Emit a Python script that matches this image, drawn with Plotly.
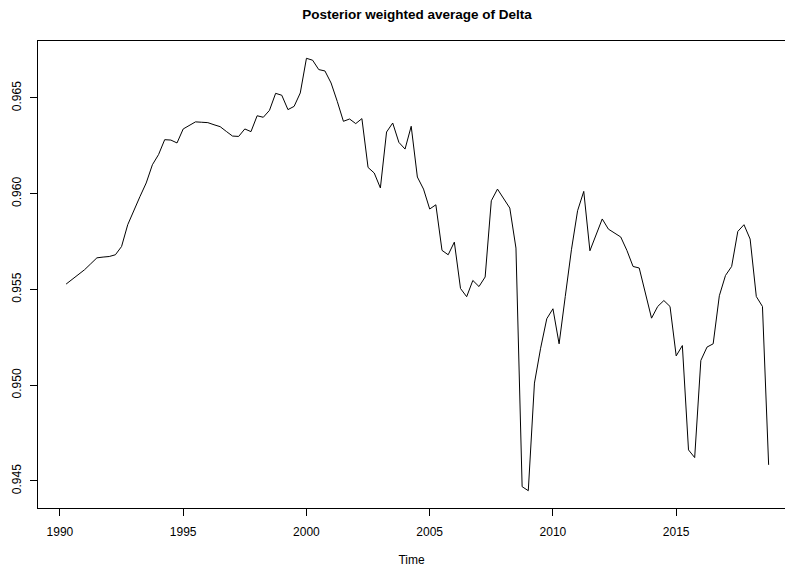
import numpy as np
import plotly.graph_objects as go

# Quarterly series, starting 1990 Q2
start_year = 1990.25
freq = 4
delta = [
    0.95528, 0.95552, 0.95578, 0.95603, 0.95634, 0.95665, 0.95669, 0.95672, 0.95681, 0.95724,
    0.95838, 0.95916, 0.95986, 0.96056, 0.96151, 0.96204, 0.96282, 0.96280, 0.96265, 0.96338,
    0.96357, 0.96375, 0.96373, 0.96371, 0.96360, 0.96350, 0.96325, 0.96301, 0.96299, 0.96338,
    0.96324, 0.96407, 0.96399, 0.96435, 0.96524, 0.96514, 0.96439, 0.96456, 0.96526, 0.96707,
    0.96697, 0.96648, 0.96641, 0.96578, 0.96482, 0.96378, 0.96390, 0.96366, 0.96392, 0.96137,
    0.96108, 0.96030, 0.96322, 0.96369, 0.96268, 0.96233, 0.96352, 0.96087, 0.96024, 0.95920,
    0.95942, 0.95704, 0.95681, 0.95747, 0.95505, 0.95462, 0.95547, 0.95515, 0.95565, 0.95963,
    0.96024, 0.95975, 0.95925, 0.95716, 0.94470, 0.94449, 0.95011, 0.95193, 0.95347, 0.95399,
    0.95216, 0.95463, 0.95707, 0.95911, 0.96012, 0.95702, 0.95786, 0.95868, 0.95815, 0.95794,
    0.95774, 0.95704, 0.95620, 0.95612, 0.95481, 0.95350, 0.95411, 0.95442, 0.95411, 0.95153,
    0.95207, 0.94662, 0.94622, 0.95129, 0.95199, 0.95216, 0.95467, 0.95573, 0.95620, 0.95803,
    0.95838, 0.95763, 0.95463, 0.95411, 0.94584,
]
time = start_year + np.arange(len(delta)) / freq

x_ticks = [1990, 1995, 2000, 2005, 2010, 2015]
y_ticks = [0.945, 0.950, 0.955, 0.960, 0.965]
y_ticktext = ["0.945", "0.950", "0.955", "0.960", "0.965"]

title_text = "Posterior weighted average of Delta"
x_title = "Time"

FONT = "Liberation Sans, Arial, Helvetica, sans-serif"

fig = go.Figure()
fig.add_trace(go.Scatter(
    x=time, y=delta, mode="lines",
    line=dict(color="black", width=1),
    hoverinfo="skip", showlegend=False,
))

# R-style 4% axis extension
xmin, xmax = time.min(), time.max()
xr = xmax - xmin
x_lo = xmin - 0.04 * xr
ymin, ymax = min(delta), max(delta)
yr = ymax - ymin
y_lo = ymin - 0.04 * yr
y_hi = ymax + 0.04 * yr

W, H = 785, 569
left, top, bottom = 38, 41, 61
# the R plot region extends past the right edge (image is cropped)
px_per_year = 24.65
x_hi = x_lo + (W - left) / px_per_year

fig.update_layout(
    width=W, height=H,
    margin=dict(l=left, r=0, t=top, b=bottom, pad=0),
    paper_bgcolor="white", plot_bgcolor="white",
    font=dict(family=FONT, size=12, color="black"),
    title=dict(
        text="<b>" + title_text + "</b>",
        x=417 / W, xref="container", xanchor="center",
        y=1 - 14 / H, yref="container", yanchor="middle",
        font=dict(family=FONT, size=13.5, color="black"),
    ),
    xaxis=dict(
        range=[x_lo, x_hi],
        tickvals=x_ticks, ticktext=[str(v) for v in x_ticks],
        ticks="outside", ticklen=7, tickwidth=1, tickcolor="black",
        ticklabelstandoff=6,
        showline=True, linecolor="black", linewidth=1, mirror=True,
        showgrid=False, zeroline=False,
        tickfont=dict(family=FONT, size=12, color="black"),
        title=dict(text=x_title, standoff=17,
                   font=dict(family=FONT, size=12, color="black")),
    ),
    yaxis=dict(
        range=[y_lo, y_hi],
        tickvals=y_ticks, ticktext=y_ticktext,
        tickangle=-90,
        ticks="outside", ticklen=7, tickwidth=1, tickcolor="black",
        ticklabelstandoff=4,
        showline=True, linecolor="black", linewidth=1, mirror=False,
        showgrid=False, zeroline=False,
        tickfont=dict(family=FONT, size=12, color="black"),
    ),
)

fig.write_html("out.html")
